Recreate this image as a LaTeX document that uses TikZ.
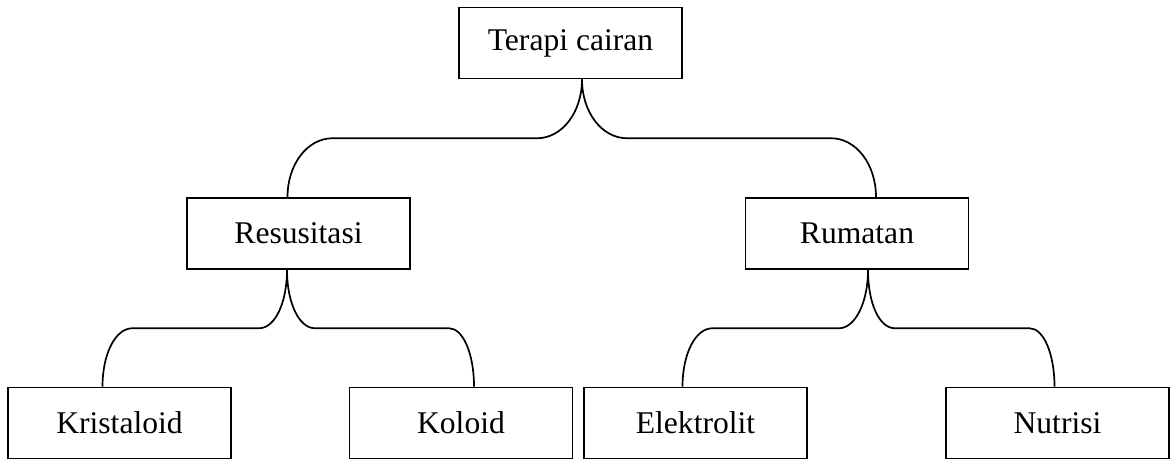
\documentclass[tikz,border=0pt]{standalone}
\usepackage{fontspec}
\setmainfont{Liberation Serif}
\usetikzlibrary{calc}
\tikzset{
  box/.style={draw, line width=1.8pt, minimum width=223pt, minimum height=71pt, inner sep=0pt, font=\fontsize{31.6}{38}\selectfont},
  conn/.style={line width=1.7pt}
}
\begin{document}
\begin{tikzpicture}[x=1pt,y=-1pt]
\useasboundingbox (0,0) rectangle (1170,460);
\node[box] (top) at (570.5,43) {Terapi cairan};
\node[box] (res) at (298.5,233.5) {Resusitasi};
\node[box] (rum) at (857,233.5) {Rumatan};
\node[box] (kri) at (119.5,423) {Kristaloid};
\node[box] (kol) at (461,423) {Koloid};
\node[box] (ele) at (695.5,423) {Elektrolit};
\node[box] (nut) at (1057.5,423) {Nutrisi};
% junction points
\coordinate (top-out) at ($(top.south)+(11.5,0)$);
\coordinate (res-in) at ($(res.north)+(-11,0)$);
\coordinate (rum-in) at ($(rum.north)+(19,0)$);
\coordinate (res-out) at ($(res.south)+(-11.5,0)$);
\coordinate (rum-out) at ($(rum.south)+(11,0)$);
\coordinate (kri-in) at ($(kri.north)+(-17,0)$);
\coordinate (kol-in) at ($(kol.north)+(13,0)$);
\coordinate (ele-in) at ($(ele.north)+(-13,0)$);
\coordinate (nut-in) at ($(nut.north)+(-3,0)$);
% mid levels
\coordinate (m1) at ($(top.south)!0.5!(res.north)$);
\coordinate (m2) at ($(res.south)!0.5!(kri.north)$);
% level 1
\draw[conn] (top-out) .. controls +(0,33) and +(25,0) .. ($(top-out |- m1)+(-45,0)$)
  -- ($(res-in |- m1)+(45,0)$) .. controls +(-25,0) and +(0,-33) .. (res-in);
\draw[conn] (top-out) .. controls +(0,33) and +(-25,0) .. ($(top-out |- m1)+(45,0)$)
  -- ($(rum-in |- m1)+(-45,0)$) .. controls +(25,0) and +(0,-33) .. (rum-in);
% level 2 left
\draw[conn] (res-out) .. controls +(0,33) and +(16,0) .. ($(res-out |- m2)+(-28,0)$)
  -- ($(kri-in |- m2)+(30,0)$) .. controls +(-17,0) and +(0,-33) .. (kri-in);
\draw[conn] (res-out) .. controls +(0,33) and +(-16,0) .. ($(res-out |- m2)+(28,0)$)
  -- ($(kol-in |- m2)+(-25,0)$) .. controls +(14,0) and +(0,-33) .. (kol-in);
% level 2 right
\draw[conn] (rum-out) .. controls +(0,33) and +(16,0) .. ($(rum-out |- m2)+(-29,0)$)
  -- ($(ele-in |- m2)+(30,0)$) .. controls +(-17,0) and +(0,-33) .. (ele-in);
\draw[conn] (rum-out) .. controls +(0,33) and +(-16,0) .. ($(rum-out |- m2)+(27,0)$)
  -- ($(nut-in |- m2)+(-25,0)$) .. controls +(14,0) and +(0,-33) .. (nut-in);
\end{tikzpicture}
\end{document}
